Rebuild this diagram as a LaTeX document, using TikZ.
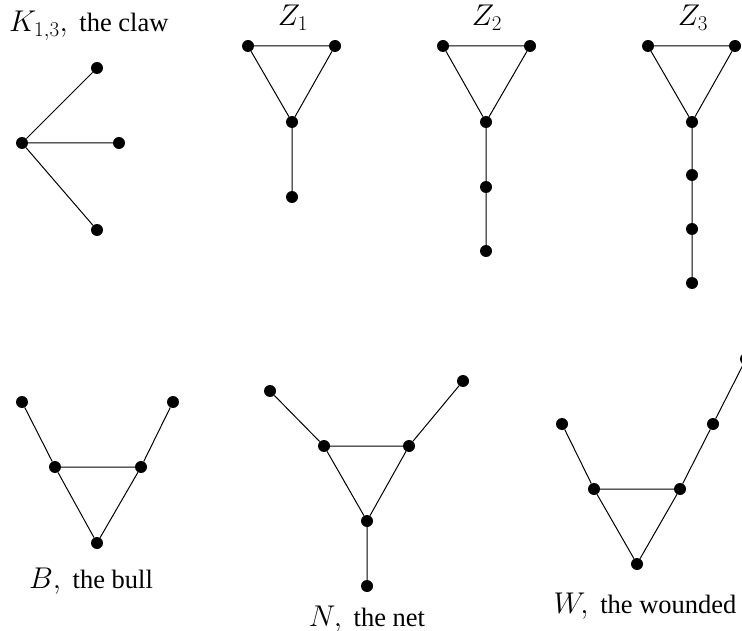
\RequirePackage{fix-cm}
\documentclass[tikz,border=0pt]{standalone}
\usepackage{fontspec}
\setmainfont{Liberation Serif}
\newcommand{\grmath}[1]{{\fontsize{30}{36}\selectfont$#1$}}
\begin{document}
\begin{tikzpicture}[x=1pt,y=-1pt,
  vtx/.style={circle,fill=black,draw=none,inner sep=0pt,minimum size=12pt},
  edge/.style={line width=1pt,black},
  lbl/.style={anchor=base,inner sep=0pt,font=\fontsize{26.5}{32}\selectfont}]
\useasboundingbox (0,0) rectangle (742,631);
% claw
\node[vtx] (c0) at (22,143) {};
\node[vtx] (c1) at (97,68) {};
\node[vtx] (c2) at (119,143) {};
\node[vtx] (c3) at (97,230) {};
\draw[edge] (c0)--(c1) (c0)--(c2) (c0)--(c3);
\node[lbl,anchor=base west] (lc) at (9,32) {\grmath{K_{1,3},\,} the claw};
% Z1
\node[vtx] (a1) at (248,46) {};
\node[vtx] (a2) at (335,46) {};
\node[vtx] (a3) at (292,122) {};
\node[vtx] (a4) at (292,197) {};
\draw[edge] (a1)--(a2)--(a3)--(a1) (a3)--(a4);
\node[lbl] (la) at (293,26) {\grmath{Z_1}};
% Z2
\node[vtx] (b1) at (443,46) {};
\node[vtx] (b2) at (530,46) {};
\node[vtx] (b3) at (486,122) {};
\node[vtx] (b4) at (486,187) {};
\node[vtx] (b5) at (486,251) {};
\draw[edge] (b1)--(b2)--(b3)--(b1) (b3)--(b4)--(b5);
\node[lbl] (lb) at (487,26) {\grmath{Z_2}};
% Z3
\node[vtx] (d1) at (648,46) {};
\node[vtx] (d2) at (735,46) {};
\node[vtx] (d3) at (692,122) {};
\node[vtx] (d4) at (692,175) {};
\node[vtx] (d5) at (692,229) {};
\node[vtx] (d6) at (692,283) {};
\draw[edge] (d1)--(d2)--(d3)--(d1) (d3)--(d4)--(d5)--(d6);
\node[lbl] (ld) at (693,26) {\grmath{Z_3}};
% bull
\node[vtx] (e1) at (22,402) {};
\node[vtx] (e2) at (173,402) {};
\node[vtx] (e3) at (55,467) {};
\node[vtx] (e4) at (141,467) {};
\node[vtx] (e5) at (97,543) {};
\draw[edge] (e1)--(e3) (e2)--(e4) (e3)--(e4)--(e5)--(e3);
\node[lbl] (le) at (91,588) {\grmath{B,\,} the bull};
% net
\node[vtx] (f1) at (270,391) {};
\node[vtx] (f2) at (463,381) {};
\node[vtx] (f3) at (324,446) {};
\node[vtx] (f4) at (409,446) {};
\node[vtx] (f5) at (367,521) {};
\node[vtx] (f6) at (367,586) {};
\draw[edge] (f1)--(f3) (f2)--(f4) (f3)--(f4)--(f5)--(f3) (f5)--(f6);
\node[lbl] (lf) at (367,626) {\grmath{N,\,} the net};
% wounded
\node[vtx] (g1) at (562,424) {};
\node[vtx] (g2) at (746,359) {};
\node[vtx] (g3) at (713,424) {};
\node[vtx] (g4) at (594,489) {};
\node[vtx] (g5) at (680,489) {};
\node[vtx] (g6) at (637,564) {};
\draw[edge] (g1)--(g4) (g2)--(g3)--(g5) (g4)--(g5)--(g6)--(g4);
\node[lbl] (lg) at (645,613) {\grmath{W,\,} the wounded};
\end{tikzpicture}
\end{document}
